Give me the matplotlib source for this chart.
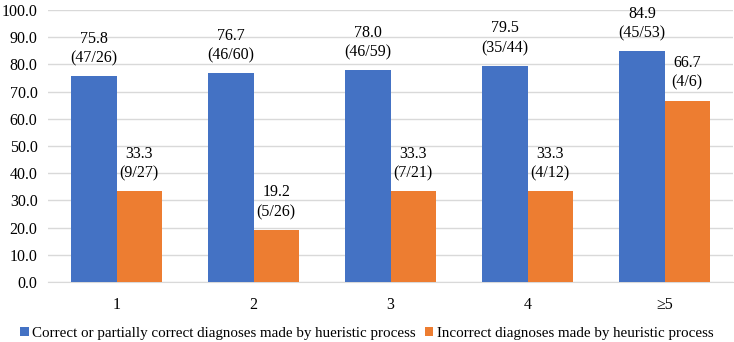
import matplotlib
matplotlib.use("Agg")
import matplotlib.pyplot as plt
import numpy as np

categories = ["1", "2", "3", "4", "\u22655"]
correct_vals = [75.8, 76.7, 78.0, 79.5, 84.9]
correct_frac = ["(47/26)", "(46/60)", "(46/59)", "(35/44)", "(45/53)"]
incorrect_vals = [33.3, 19.2, 33.3, 33.3, 66.7]
incorrect_frac = ["(9/27)", "(5/26)", "(7/21)", "(4/12)", "(4/6)"]
series_names = ["Correct or partially correct diagnoses made by hueristic process",
                "Incorrect diagnoses made by heuristic process"]

plt.rcParams['font.family'] = ['Liberation Serif', 'DejaVu Serif']
fs = 11.5

fig = plt.figure(figsize=(7.34, 3.42), dpi=100)
ax = fig.add_axes([48/734, 1-282/342, (733-48)/734, 272/342])

x = np.arange(len(categories))
w = 0.33
blue = "#4472C4"
orange = "#ED7D31"
b1 = ax.bar(x - w/2, correct_vals, w, color=blue, label=series_names[0], zorder=3)
b2 = ax.bar(x + w/2, incorrect_vals, w, color=orange, label=series_names[1], zorder=3)

for xi, v, f in zip(x - w/2, correct_vals, correct_frac):
    ax.annotate(f"{v:.1f}\n{f}", (xi, v), xytext=(0, 7), textcoords="offset points",
                ha="center", va="bottom", fontsize=fs, linespacing=1.3)
for xi, v, f in zip(x + w/2, incorrect_vals, incorrect_frac):
    ax.annotate(f"{v:.1f}\n{f}", (xi, v), xytext=(0, 7), textcoords="offset points",
                ha="center", va="bottom", fontsize=fs, linespacing=1.3)

ax.set_xlim(-0.5, len(categories) - 0.5)
ax.set_ylim(0, 100)
ax.set_yticks(np.arange(0, 101, 10))
ax.set_yticklabels([f"{t:.1f}" for t in np.arange(0, 101, 10)], fontsize=fs)
ax.set_xticks(x)
ax.set_xticklabels(categories, fontsize=fs)
ax.tick_params(axis='both', length=0)
ax.tick_params(axis='x', pad=11)
ax.tick_params(axis='y', pad=7.5)
ax.grid(axis='y', color="#D9D9D9", linewidth=1, zorder=0)
for s in ["top", "right", "left"]:
    ax.spines[s].set_visible(False)
ax.spines["bottom"].set_color("#D9D9D9")

fig.legend(handles=[b1, b2], labels=series_names, loc="center", bbox_to_anchor=(0.5, 1-333/342),
           ncol=2, frameon=False, fontsize=10.8, handlelength=0.55, handleheight=0.55,
           handletextpad=0.25, columnspacing=0.6)

fig.savefig("out.png", dpi=100)
